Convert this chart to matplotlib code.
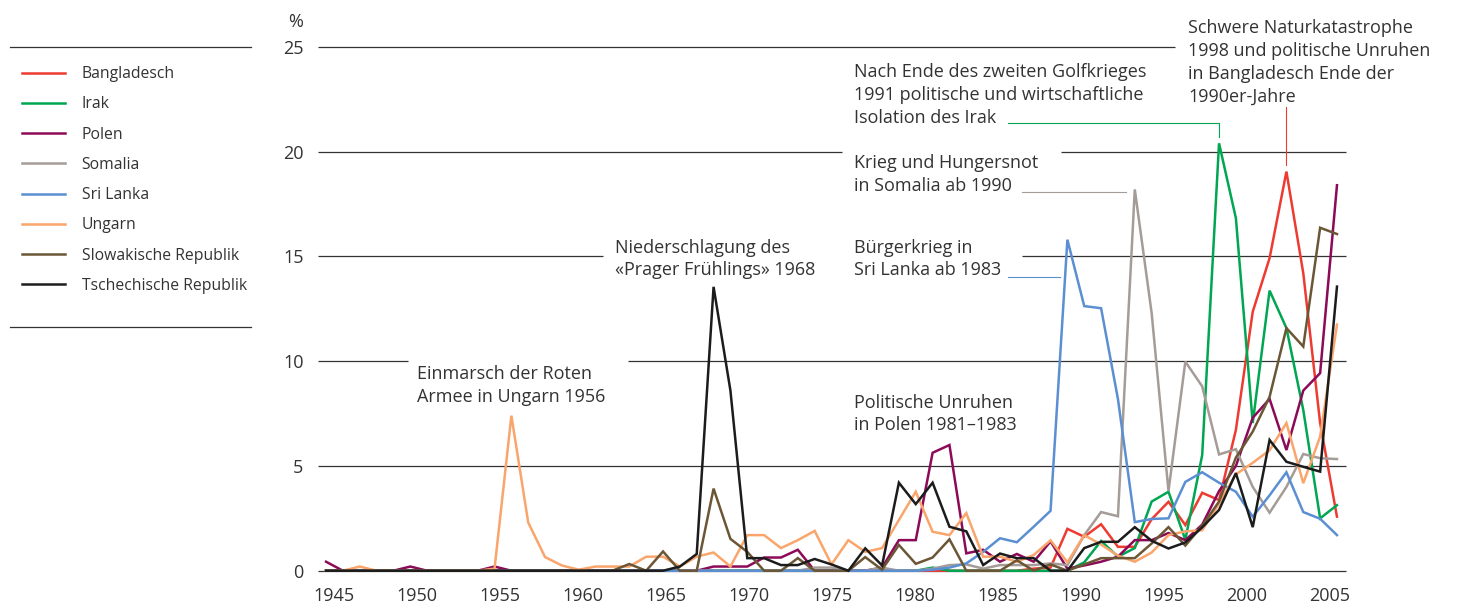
import matplotlib.pyplot as plt
from matplotlib.lines import Line2D

plt.rcParams['font.family'] = ['Open Sans', 'DejaVu Sans']

years = list(range(1945, 2006))

countries = ['Bangladesch', 'Irak', 'Polen', 'Somalia', 'Sri Lanka', 'Ungarn',
             'Slowakische Republik', 'Tschechische Republik']
colors = ['#ee3b32', '#00a651', '#8c0a58', '#a59c98', '#5b8fd2', '#f9a56b',
          '#6b5636', '#1c1c1c']

# Anteil in %, 1945 ... 2005
bangladesch = [0] * 40 + [0, 0, 0.1, 0.15, 2.0, 1.62, 2.22, 1.14, 1.14, 2.46,
                          3.29, 2.18, 3.72, 3.37, 6.72, 12.36, 14.92, 19.05, 14.2, 7.05,
                          2.58]
irak = [0] * 30 + [0, 0, 0, 0, 0, 0, 0.15, 0, 0, 0,
                   0, 0, 0, 0, 0, 0.4, 1.42, 0.67, 1.08, 3.3,
                   3.77, 1.48, 5.52, 20.4, 16.83, 7.05, 13.37, 11.58, 7.67, 2.5,
                   3.13]
polen = [0.43, 0, 0, 0, 0, 0.2, 0, 0, 0, 0,
         0.2, 0, 0, 0, 0, 0, 0, 0, 0, 0,
         0, 0, 0, 0.2, 0.2, 0.2, 0.63, 0.63, 1.0, 0,
         0, 0, 0, 0.15, 1.46, 1.46, 5.63, 6.0, 0.83, 1.0,
         0.43, 0.8, 0.43, 1.4, 0.1, 0.25, 0.43, 0.67, 1.46, 1.46,
         1.8, 1.46, 2.2, 3.8, 5.0, 7.3, 8.2, 5.76, 8.6, 9.43,
         18.4]
somalia = [0] * 20 + [0, 0, 0, 0, 0, 0, 0, 0, 0, 0.15,
                      0.15, 0, 0, 0.15, 0, 0, 0.1, 0.27, 0.3, 0.1,
                      0.27, 0.27, 0.27, 0.35, 0.27, 1.7, 2.8, 2.6, 18.2, 12.3,
                      3.8, 9.98, 8.8, 5.55, 5.8, 4.0, 2.77, 4.0, 5.57, 5.37,
                      5.33]
sri_lanka = [0] * 30 + [0, 0, 0, 0, 0, 0, 0.05, 0.15, 0.35, 0.9,
                        1.55, 1.36, 2.1, 2.86, 15.8, 12.63, 12.53, 8.2, 2.32, 2.47,
                        2.5, 4.24, 4.7, 4.2, 3.77, 2.58, 3.6, 4.7, 2.8, 2.48,
                        1.7]
ungarn = [0, 0, 0.2, 0, 0, 0, 0, 0, 0, 0,
          0.1, 7.4, 2.3, 0.65, 0.25, 0.05, 0.2, 0.2, 0.2, 0.67,
          0.67, 0.2, 0.67, 0.87, 0.2, 1.7, 1.7, 1.08, 1.46, 1.9,
          0.3, 1.46, 0.9, 1.08, 2.42, 3.77, 1.86, 1.7, 2.75, 0.67,
          0.67, 0.43, 0.75, 1.45, 0.4, 1.7, 1.25, 0.72, 0.43, 0.87,
          1.7, 1.88, 1.93, 3.2, 4.6, 5.15, 5.75, 7.05, 4.18, 6.4,
          11.75]
slowakei = [0] * 10 + [0, 0, 0, 0, 0, 0, 0, 0, 0.32, 0,
                       0.92, 0, 0, 3.92, 1.52, 0.9, 0, 0, 0.6, 0,
                       0, 0, 0.65, 0.05, 1.23, 0.33, 0.63, 1.5, 0, 0,
                       0, 0.5, 0, 0.3, 0, 0.3, 0.6, 0.6, 0.6, 1.3,
                       2.08, 1.2, 2.15, 3.3, 5.4, 6.64, 8.3, 11.58, 10.7, 16.37,
                       16.07]
tschechien = [0] * 20 + [0, 0.2, 0.8, 13.55, 8.6, 0.6, 0.6, 0.27, 0.27, 0.56,
                         0.3, 0, 1.07, 0.25, 4.2, 3.18, 4.2, 2.1, 1.88, 0.27,
                         0.82, 0.6, 0.6, 0, 0, 1.08, 1.38, 1.38, 2.08, 1.43,
                         1.06, 1.35, 2.07, 2.9, 4.66, 2.08, 6.24, 5.2, 4.96, 4.73,
                         13.56]

series = [bangladesch, irak, polen, somalia, sri_lanka, ungarn, slowakei, tschechien]

tick_years = list(range(1945, 2006, 5))

txt = '#333333'
grid = '#333333'

fig = plt.figure(figsize=(14.62, 6.07), dpi=100)
ax = fig.add_axes([0.2161, 0.0425, 0.7053, 0.9147])
ax.set_xlim(1944.4, 2005.6)
ax.set_ylim(-0.5, 26)
for s in ax.spines.values():
    s.set_visible(False)

# Rasterlinien, dort unterbrochen, wo Beschriftungen stehen
x0, x1 = 1944.53, 2005.53
gridsegs = [(0, x0, x1), (5, x0, x1),
            (10, x0, 1949.87), (10, 1962.92, x1),
            (15, x0, 1961.44), (15, 1986.31, x1),
            (20, x0, 1975.62), (20, 1988.62, x1),
            (25, x0, 1995.39)]
for y, a, b in gridsegs:
    ax.hlines(y, a, b, color=grid, lw=0.9, zorder=1)

handles = []
for name, col, vals in zip(countries, colors, series):
    ln, = ax.plot(years, vals, color=col, lw=1.8, label=name, zorder=3,
                  solid_joinstyle='miter')
    handles.append(ln)

# Jahreszahlen stehen in der Vorlage etwas enger als die Datenpunkte
ax.set_xticks([1945.47 + (t - 1945) * 0.9852 for t in tick_years],
              [str(t) for t in tick_years])
ax.set_yticks(range(0, 26, 5))
ax.tick_params(axis='both', length=0, labelsize=13, colors=txt)
ax.tick_params(axis='x', pad=4.5)
ax.tick_params(axis='y', pad=9)
ax.text(1943.63, 26.2, '%', ha='right', va='center', fontsize=13, color=txt,
        clip_on=False)

# Erläuterungen
fs = 13
ls = 1.35
ax.text(1950.40, 8.82, 'Einmarsch der Roten\nArmee in Ungarn 1956', fontsize=fs,
        color=txt, va='center', linespacing=ls)
ax.text(1962.15, 14.88, 'Niederschlagung des\n«Prager Frühlings» 1968', fontsize=fs,
        color=txt, va='center', linespacing=ls)
ax.text(1976.34, 14.88, 'Bürgerkrieg in\nSri Lanka ab 1983', fontsize=fs,
        color=txt, va='center', linespacing=ls)
ax.text(1976.34, 18.91, 'Krieg und Hungersnot\nin Somalia ab 1990', fontsize=fs,
        color=txt, va='center', linespacing=ls)
ax.text(1976.34, 22.70, 'Nach Ende des zweiten Golfkrieges\n1991 politische und wirtschaftliche\n'
        'Isolation des Irak', fontsize=fs, color=txt, va='center', linespacing=ls)
ax.text(1996.16, 24.25, 'Schwere Naturkatastrophe\n1998 und politische Unruhen\n'
        'in Bangladesch Ende der\n1990er-Jahre', fontsize=fs, color=txt, va='center',
        linespacing=ls, clip_on=False)
ax.text(1976.34, 7.48, 'Politische Unruhen\nin Polen 1981–1983', fontsize=fs,
        color=txt, va='center', linespacing=ls)

# Verbindungslinien
ax.plot([1985.47, 1998.0, 1998.0], [21.35, 21.35, 20.70], color=colors[1], lw=0.8)
ax.plot([1986.31, 1992.48], [18.08, 18.08], color=colors[3], lw=0.8)
ax.plot([1985.47, 1988.56], [14.02, 14.02], color=colors[4], lw=0.8)
ax.plot([2001.97, 2001.97], [22.13, 19.36], color=colors[0], lw=0.8)

# Legende
fig.legend(handles=handles, loc='upper left', bbox_to_anchor=(22 / 1462, 1 - 66 / 607),
           frameon=False, fontsize=11.3, handlelength=2.75, handletextpad=1.05,
           labelspacing=0.91, borderpad=0, borderaxespad=0, labelcolor=txt)
for yy in (47, 327):
    fig.add_artist(Line2D([10 / 1462, 251 / 1462], [1 - yy / 607] * 2,
                          transform=fig.transFigure, color=grid, lw=0.9))

fig.savefig('out.png', dpi=100)
